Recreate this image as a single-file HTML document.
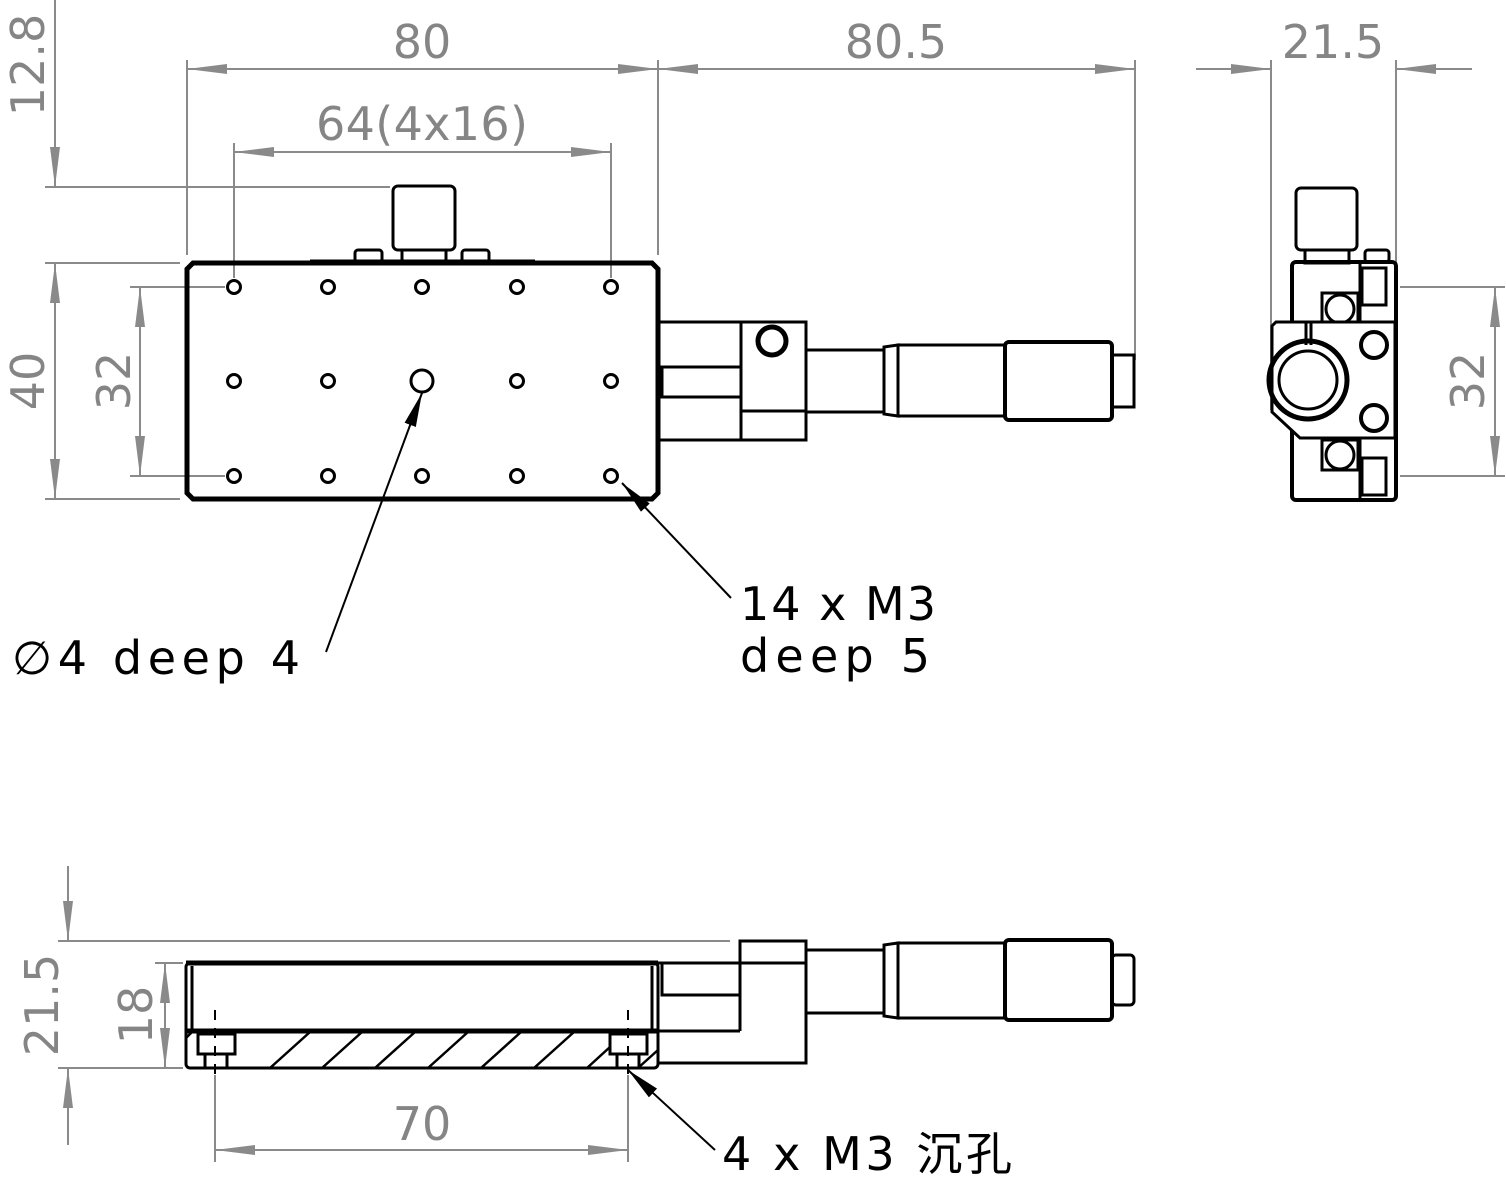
<!DOCTYPE html>
<html><head><meta charset="utf-8"><style>
html,body{margin:0;padding:0;background:#fff;}
svg{display:block;}
.d{fill:#858585;font-family:"DejaVu Sans","Liberation Sans",sans-serif;font-size:46px;}
.t{fill:#000;font-family:"DejaVu Sans","Liberation Sans","Noto Sans CJK SC",sans-serif;font-size:46px;}
.g{stroke:#8a8a8a;stroke-width:2;fill:none;}
.k{stroke:#000;stroke-width:3;fill:none;}
.K{stroke:#000;stroke-width:5;fill:none;}
</style></head><body>
<svg width="1506" height="1187" viewBox="0 0 1506 1187" xmlns="http://www.w3.org/2000/svg">
<defs>
<marker id="a" markerWidth="40" markerHeight="14" refX="40" refY="7" orient="auto" markerUnits="userSpaceOnUse"><path d="M0,2 L40,7 L0,12 Z" fill="#8a8a8a"/></marker>
<marker id="b" markerWidth="34" markerHeight="14" refX="34" refY="7" orient="auto" markerUnits="userSpaceOnUse"><path d="M0,1 L34,7 L0,13 Z" fill="#000"/></marker>
</defs>
<g class="g">
<line x1="187" y1="60" x2="187" y2="255"/><line x1="658" y1="60" x2="658" y2="255"/><line x1="1135" y1="60" x2="1135" y2="360"/>
<line x1="234" y1="143" x2="234" y2="278"/><line x1="611" y1="143" x2="611" y2="278"/>
<line x1="45" y1="187" x2="390" y2="187"/><line x1="45" y1="263" x2="180" y2="263"/><line x1="45" y1="499" x2="180" y2="499"/>
<line x1="130" y1="287" x2="225" y2="287"/><line x1="130" y1="476" x2="225" y2="476"/>
<line x1="422" y1="69" x2="187" y2="69" marker-end="url(#a)"/><line x1="422" y1="69" x2="658" y2="69" marker-end="url(#a)"/>
<line x1="896" y1="69" x2="658" y2="69" marker-end="url(#a)"/><line x1="896" y1="69" x2="1135" y2="69" marker-end="url(#a)"/>
<line x1="422" y1="152" x2="234" y2="152" marker-end="url(#a)"/><line x1="422" y1="152" x2="611" y2="152" marker-end="url(#a)"/>
<line x1="55" y1="0" x2="55" y2="187" marker-end="url(#a)"/>
<line x1="55" y1="380" x2="55" y2="263" marker-end="url(#a)"/><line x1="55" y1="380" x2="55" y2="499" marker-end="url(#a)"/>
<line x1="140" y1="381" x2="140" y2="287" marker-end="url(#a)"/><line x1="140" y1="381" x2="140" y2="476" marker-end="url(#a)"/>
</g>
<text class="d" x="422" y="58" text-anchor="middle">80</text>
<text class="d" x="896" y="58" text-anchor="middle">80.5</text>
<text class="d" x="422" y="140" text-anchor="middle" textLength="212">64(4x16)</text>
<text class="d" transform="translate(44,65) rotate(-90)" text-anchor="middle">12.8</text>
<text class="d" transform="translate(44,381) rotate(-90)" text-anchor="middle">40</text>
<text class="d" transform="translate(130,381) rotate(-90)" text-anchor="middle">32</text>
<path class="K" d="M193,263 L652,263 L658,269 L658,493 L652,499 L193,499 L187,493 L187,269 Z"/>
<rect class="k" x="393" y="186" width="62" height="64" rx="5"/>
<rect class="k" x="402" y="250" width="44" height="13"/>
<rect class="k" x="355" y="250" width="27" height="13" rx="3"/>
<rect class="k" x="462" y="250" width="27" height="13" rx="3"/>
<line class="k" x1="310" y1="261" x2="535" y2="261"/>
<g class="k" stroke-width="2.5">
<circle cx="234" cy="287" r="6.5"/><circle cx="328" cy="287" r="6.5"/><circle cx="422" cy="287" r="6.5"/><circle cx="517" cy="287" r="6.5"/><circle cx="611" cy="287" r="6.5"/>
<circle cx="234" cy="381" r="6.5"/><circle cx="328" cy="381" r="6.5"/><circle cx="517" cy="381" r="6.5"/><circle cx="611" cy="381" r="6.5"/>
<circle cx="234" cy="476" r="6.5"/><circle cx="328" cy="476" r="6.5"/><circle cx="422" cy="476" r="6.5"/><circle cx="517" cy="476" r="6.5"/><circle cx="611" cy="476" r="6.5"/>
<circle cx="422" cy="381" r="11"/>
</g>
<g class="k">
<rect x="658" y="322" width="83" height="118"/>
<rect x="662" y="367" width="79" height="30"/>
<rect x="741" y="322" width="65" height="118"/>
<line x1="741" y1="411" x2="806" y2="411"/>
<rect x="806" y="350" width="78" height="62"/>
<path d="M884,347 L898,345 L898,416 L884,414 Z"/>
<rect x="898" y="345" width="107" height="71"/>
<rect x="1005" y="342" width="107" height="78" rx="4" stroke-width="4"/>
<rect x="1112" y="355" width="22" height="52"/>
</g>
<circle cx="772" cy="341" r="14" class="K"/>
<line x1="326" y1="652" x2="422" y2="393" stroke="#000" stroke-width="2" marker-end="url(#b)"/>
<line x1="731" y1="598" x2="622" y2="483" stroke="#000" stroke-width="2" marker-end="url(#b)"/>
<text class="t" x="12" y="674" textLength="288">∅4 deep 4</text>
<text class="t" x="740" y="620" textLength="196">14 x M3</text>
<text class="t" x="740" y="672" textLength="190">deep 5</text>
<g class="g">
<line x1="1271" y1="60" x2="1271" y2="410"/><line x1="1396" y1="60" x2="1396" y2="280"/>
<line x1="1196" y1="69" x2="1271" y2="69" marker-end="url(#a)"/><line x1="1472" y1="69" x2="1396" y2="69" marker-end="url(#a)"/>
<line x1="1400" y1="287" x2="1505" y2="287"/><line x1="1400" y1="476" x2="1505" y2="476"/>
<line x1="1495" y1="381" x2="1495" y2="287" marker-end="url(#a)"/><line x1="1495" y1="381" x2="1495" y2="476" marker-end="url(#a)"/>
</g>
<text class="d" x="1333" y="58" text-anchor="middle">21.5</text>
<text class="d" transform="translate(1484,381) rotate(-90)" text-anchor="middle">32</text>
<g class="k">
<rect x="1296" y="188" width="61" height="62" rx="5"/>
<rect x="1305" y="250" width="44" height="13"/>
<rect x="1365" y="250" width="24" height="12" rx="3"/>
<rect x="1292" y="262" width="104" height="238" rx="4" stroke-width="4"/>
<line x1="1360" y1="262" x2="1360" y2="500"/>
<rect x="1322" y="293" width="36" height="30"/><circle cx="1340" cy="309" r="14"/>
<rect x="1322" y="440" width="36" height="30"/><circle cx="1340" cy="455" r="14"/>
<rect x="1362" y="268" width="24" height="37"/><rect x="1362" y="458" width="24" height="37"/>
<path d="M1276,322 L1395,322 L1395,438 L1300,438 L1272,412 L1272,326 Z" fill="#fff"/>
<line x1="1306" y1="322" x2="1306" y2="345"/><line x1="1311" y1="322" x2="1311" y2="345"/>
<circle cx="1308" cy="380" r="29"/>
<circle cx="1374" cy="345" r="13" stroke-width="4"/><circle cx="1374" cy="418" r="13" stroke-width="4"/>
</g>
<circle cx="1308" cy="380" r="39" class="K"/>
<g class="g">
<line x1="58" y1="941" x2="730" y2="941"/><line x1="58" y1="1068" x2="183" y2="1068"/><line x1="155" y1="963" x2="183" y2="963"/>
<line x1="68" y1="866" x2="68" y2="941" marker-end="url(#a)"/><line x1="68" y1="1145" x2="68" y2="1068" marker-end="url(#a)"/>
<line x1="165" y1="1015" x2="165" y2="963" marker-end="url(#a)"/><line x1="165" y1="1015" x2="165" y2="1068" marker-end="url(#a)"/>
<line x1="215" y1="1075" x2="215" y2="1162"/><line x1="628" y1="1075" x2="628" y2="1162"/>
<line x1="422" y1="1150" x2="215" y2="1150" marker-end="url(#a)"/><line x1="422" y1="1150" x2="628" y2="1150" marker-end="url(#a)"/>
</g>
<text class="d" transform="translate(58,1005) rotate(-90)" text-anchor="middle">21.5</text>
<text class="d" transform="translate(152,1015) rotate(-90)" text-anchor="middle">18</text>
<text class="d" x="422" y="1140" text-anchor="middle">70</text>
<g class="k">
<rect x="186" y="963" width="472" height="105" rx="4"/>
<line x1="192" y1="966" x2="192" y2="1030"/><line x1="652" y1="966" x2="652" y2="1030"/>
<path d="M212,1050 L232,1032 M270,1068 L310,1032 M322,1068 L362,1032 M375,1068 L415,1032 M428,1068 L468,1032 M481,1068 L521,1032 M534,1068 L574,1032 M587,1068 L610,1047 M638,1068 L658,1050 M186,1038 L192,1032" stroke-width="2.5"/>
<rect x="198" y="1034" width="37" height="20" fill="#fff"/><rect x="205" y="1054" width="22" height="14" fill="#fff"/>
<rect x="610" y="1034" width="37" height="20" fill="#fff"/><rect x="617" y="1054" width="22" height="14" fill="#fff"/>
<line x1="215" y1="1010" x2="215" y2="1075" stroke-dasharray="10,8" stroke-width="2"/>
<line x1="628" y1="1010" x2="628" y2="1075" stroke-dasharray="10,8" stroke-width="2"/>
<path d="M658,963 L740,963 L740,941 L806,941 L806,1063 L658,1063"/>
<rect x="662" y="963" width="78" height="32"/>
<line x1="658" y1="1031" x2="740" y2="1031"/><line x1="740" y1="1031" x2="740" y2="963"/>
<line x1="740" y1="963" x2="806" y2="963"/>
<rect x="806" y="950" width="78" height="63"/>
<path d="M884,945 L898,943 L898,1018 L884,1016 Z"/>
<rect x="898" y="943" width="107" height="75"/>
<rect x="1005" y="940" width="107" height="80" rx="4" stroke-width="4"/>
<rect x="1112" y="955" width="22" height="50" rx="4"/>
</g>
<line x1="186" y1="963" x2="658" y2="963" stroke="#000" stroke-width="5"/>
<line x1="186" y1="1031" x2="658" y2="1031" stroke="#000" stroke-width="5"/>
<line x1="715" y1="1150" x2="628" y2="1070" stroke="#000" stroke-width="2" marker-end="url(#b)"/>
<text class="t" x="722" y="1170" textLength="290">4 x M3 沉孔</text>
</svg>
</body></html>
